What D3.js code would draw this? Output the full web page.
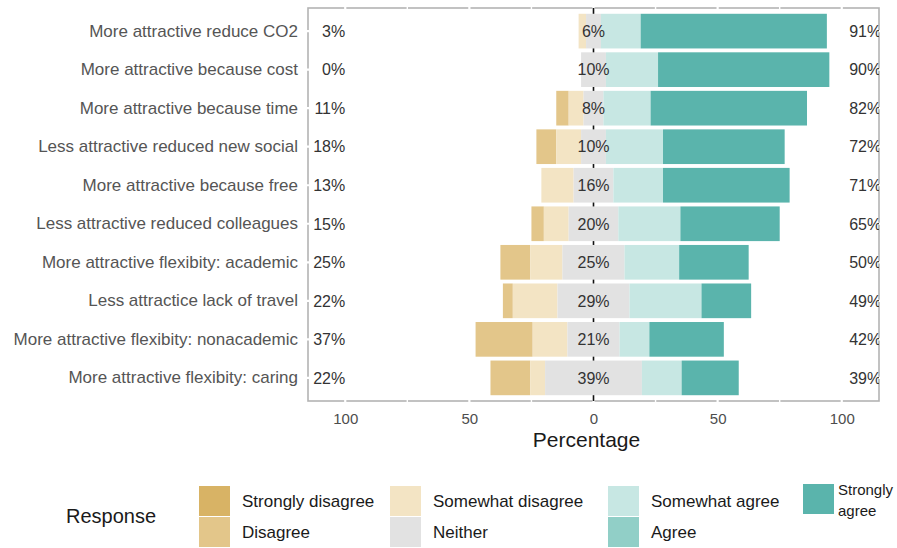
<!DOCTYPE html>
<html>
<head>
<meta charset="utf-8">
<script src="https://cdn.jsdelivr.net/npm/d3@7"></script>
<style>
  body { margin: 0; background: #fff; }
  svg text { font-family: "Liberation Sans", Arial, sans-serif; }
</style>
</head>
<body>
<svg id="chart"></svg>
<script>
const width = 897, height = 548;

// questions, top to bottom
const questions = [
	"More attractive reduce CO2",
	"More attractive because cost",
	"More attractive because time",
	"Less attractive reduced new social",
	"More attractive because free",
	"Less attractive reduced colleagues",
	"More attractive flexibity: academic",
	"Less attractice lack of travel",
	"More attractive flexibity: nonacademic",
	"More attractive flexibity: caring"
];
const levels = ["Strongly disagree", "Disagree", "Somewhat disagree", "Neither", "Somewhat agree", "Agree", "Strongly agree"];
const colors = ["#d8b365", "#e3c68a", "#f3e4c4", "#e2e2e2", "#c7e7e3", "#91cfc7", "#5ab4ac"];

// percentages
const stronglyDisagree = [0, 0, 0, 0, 0, 0, 0, 0, 0, 0];
const disagree         = [0, 0, 5, 8, 0, 5, 12, 4, 23, 16];
const somewhatDisagree = [3, 0, 6, 10, 13, 10, 13, 18, 14, 6];
const neither          = [6, 10, 8, 10, 16, 20, 25, 29, 21, 39];
const somewhatAgree    = [16, 21, 19, 23, 20, 25, 22, 29, 12, 16];
const agree            = [0, 0, 0, 0, 0, 0, 0, 0, 0, 0];
const stronglyAgree    = [75, 69, 63, 49, 51, 40, 28, 20, 30, 23];

// labels printed at the sides of each bar
const lowLabels     = [3, 0, 11, 18, 13, 15, 25, 22, 37, 22];
const neutralLabels = [6, 10, 8, 10, 16, 20, 25, 29, 21, 39];
const highLabels    = [91, 90, 82, 72, 71, 65, 50, 49, 42, 39];

const xTicks = [-100, -50, 0, 50, 100];
const gridTicks = [-100, -75, -50, -25, 0, 25, 50, 75, 100];

const series = [stronglyDisagree, disagree, somewhatDisagree, neither, somewhatAgree, agree, stronglyAgree];

const panel = {left: 308, right: 879, top: 8, bottom: 401};

const x = d3.scaleLinear().domain([-115, 115]).range([panel.left, panel.right]);
const y = d3.scaleBand().domain(questions).range([panel.top, panel.bottom])
	.paddingInner(0.1).paddingOuter(0.15);

const svg = d3.select("svg#chart").attr('width', width).attr('height', height);

// build segments: neutral split around zero
const segments = [];
questions.forEach((q, i) => {
	let start = -(stronglyDisagree[i] + disagree[i] + somewhatDisagree[i] + neither[i] / 2);
	series.forEach((s, k) => {
		const v = s[i];
		segments.push({q: q, k: k, x0: start, x1: start + v});
		start += v;
	});
});

svg.append('defs').append('clipPath').attr('id', 'panel-clip')
	.append('rect')
	.attr('x', panel.left).attr('y', panel.top)
	.attr('width', panel.right - panel.left).attr('height', panel.bottom - panel.top);

// panel border
svg.append('rect')
	.attr('x', panel.left).attr('y', panel.top)
	.attr('width', panel.right - panel.left).attr('height', panel.bottom - panel.top)
	.attr('fill', '#fff').attr('stroke', '#b3b3b3').attr('stroke-width', 1.6);

// white grid over the border
svg.append('g').selectAll('line').data(gridTicks).join('line')
	.attr('x1', d => x(d)).attr('x2', d => x(d))
	.attr('y1', panel.top - 2).attr('y2', panel.bottom + 2)
	.attr('stroke', '#fff').attr('stroke-width', d => d % 50 === 0 ? 2.2 : 1.4);
svg.append('g').selectAll('line').data(questions).join('line')
	.attr('x1', panel.left - 2).attr('x2', panel.right + 2)
	.attr('y1', d => y(d) + y.bandwidth() / 2).attr('y2', d => y(d) + y.bandwidth() / 2)
	.attr('stroke', '#fff').attr('stroke-width', 2.2);

// centre line (only shows between the bars)
svg.append('line')
	.attr('x1', x(0)).attr('x2', x(0))
	.attr('y1', panel.top).attr('y2', panel.bottom)
	.attr('stroke', '#111').attr('stroke-width', 1.6);

// bars
svg.append('g').selectAll('rect').data(segments.filter(d => d.x1 > d.x0)).join('rect')
	.attr('x', d => x(d.x0))
	.attr('width', d => x(d.x1) - x(d.x0))
	.attr('y', d => y(d.q))
	.attr('height', y.bandwidth())
	.attr('fill', d => colors[d.k]);

// percent labels
const labels = svg.append('g').attr('clip-path', 'url(#panel-clip)')
	.attr('font-size', 16).attr('fill', '#333');
labels.selectAll('text.low').data(questions).join('text').attr('class', 'low')
	.attr('x', x(-100)).attr('y', d => y(d) + y.bandwidth() / 2).attr('dy', '0.36em')
	.attr('text-anchor', 'end')
	.text((d, i) => lowLabels[i] + '%');
labels.selectAll('text.mid').data(questions).join('text').attr('class', 'mid')
	.attr('x', x(0)).attr('y', d => y(d) + y.bandwidth() / 2).attr('dy', '0.36em')
	.attr('text-anchor', 'middle')
	.text((d, i) => neutralLabels[i] + '%');
labels.selectAll('text.high').data(questions).join('text').attr('class', 'high')
	.attr('x', x(103)).attr('y', d => y(d) + y.bandwidth() / 2).attr('dy', '0.36em')
	.attr('text-anchor', 'start')
	.text((d, i) => highLabels[i] + '%');

// axes
const xAxis = svg.append('g').attr('transform', `translate(0,${panel.bottom})`)
	.call(d3.axisBottom(x).tickValues(xTicks).tickFormat(d => Math.abs(d)).tickSize(0).tickPadding(12));
xAxis.select('.domain').remove();
xAxis.selectAll('text').attr('font-size', 15).attr('fill', '#4d4d4d')
	.style('font-family', '"Liberation Sans", Arial, sans-serif');

const yAxis = svg.append('g').attr('transform', `translate(${panel.left},0)`)
	.call(d3.axisLeft(y).tickSize(0).tickPadding(10));
yAxis.select('.domain').remove();
yAxis.selectAll('text').attr('font-size', 17).attr('fill', '#555')
	.style('font-family', '"Liberation Sans", Arial, sans-serif');

svg.append('text')
	.attr('x', (panel.left + panel.right) / 2 - 7).attr('y', 447)
	.attr('text-anchor', 'middle').attr('font-size', 21).attr('fill', '#1a1a1a')
	.text('Percentage');

// legend
svg.append('text').attr('x', 66).attr('y', 523)
	.attr('font-size', 20).attr('fill', '#1a1a1a').text('Response');

const legendCols = [199, 390, 608, 803];
const legendRows = [486, 517];
const legendItems = levels.map((l, k) => ({
	label: l, k: k,
	col: Math.floor(k / 2), row: k % 2
}));
const legend = svg.append('g');
const item = legend.selectAll('g').data(legendItems).join('g')
	.attr('transform', d => `translate(${legendCols[d.col]},${d.k === 6 ? 484 : legendRows[d.row]})`);
item.append('rect').attr('width', 31).attr('height', 30).attr('fill', d => colors[d.k]);
item.append('text')
	.attr('x', 43).attr('font-size', 17).attr('fill', '#1a1a1a')
	.each(function (d) {
		const t = d3.select(this);
		if (d.k === 6) {
			t.attr('font-size', 15);
			t.append('tspan').attr('x', 35).attr('y', 11).text('Strongly');
			t.append('tspan').attr('x', 35).attr('y', 32).text('agree');
		} else {
			t.attr('y', 21).text(d.label);
		}
	});
</script>
</body>
</html>
